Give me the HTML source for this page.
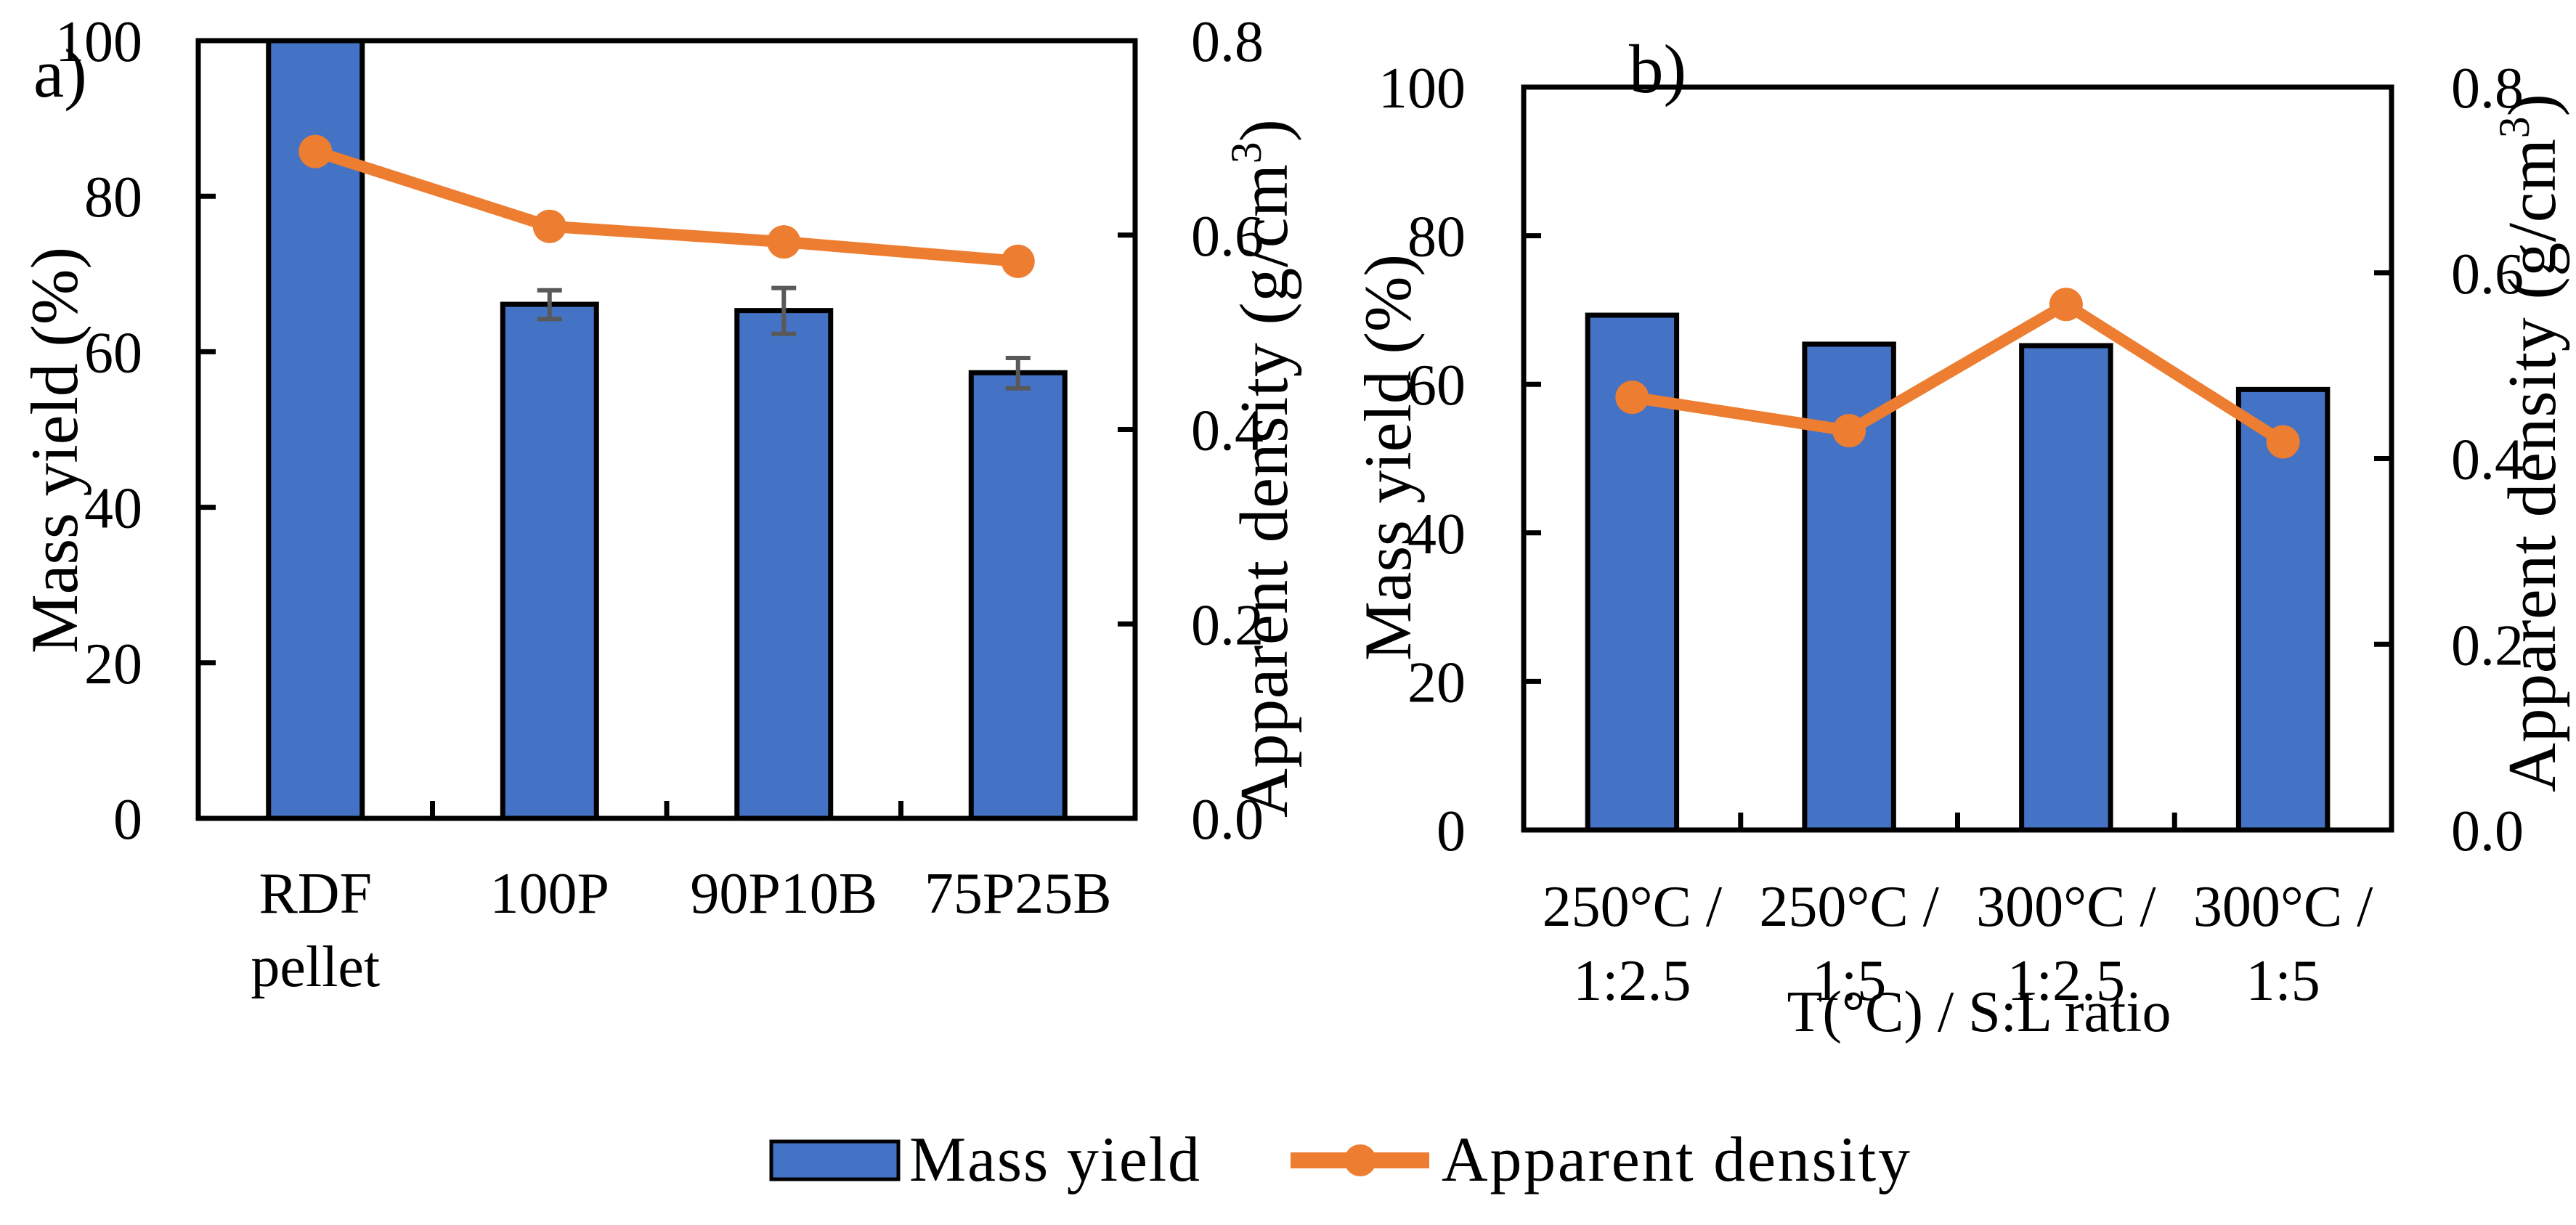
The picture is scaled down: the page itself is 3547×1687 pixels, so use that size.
<!DOCTYPE html>
<html><head><meta charset="utf-8"><style>
html,body{margin:0;padding:0;background:#fff;}
svg{display:block;}
text{font-family:"Liberation Serif",serif;fill:#000;}
</style></head><body>
<svg id="chart" width="3547" height="1687" viewBox="0 0 3547 1687" xmlns="http://www.w3.org/2000/svg">
<g id="pa"></g>
<g id="pb"></g>
<g>
  <g>
    <rect x="1062" y="1572" width="175" height="52" fill="#4472C4" stroke="#000" stroke-width="5"/>
    <text x="1252" y="1626" font-size="88" textLength="400">Mass yield</text>
  </g>
  <g>
    <line x1="1777" y1="1598" x2="1968" y2="1598" stroke="#ED7D31" stroke-width="22"/>
    <circle cx="1873" cy="1598" r="22" fill="#ED7D31"/>
    <text x="1985" y="1626" font-size="88" textLength="645">Apparent density</text>
  </g>
</g>
</svg>
<script>
const catsA = [["RDF","pellet"],["100P"],["90P10B"],["75P25B"]];
const massA = [100, 66.1, 65.3, 57.3];
const errLoA = [null, 64.2, 62.3, 55.3];
const errHiA = [null, 67.9, 68.2, 59.2];
const densA = [0.686, 0.609, 0.593, 0.573];

const catsB = [["250°C /","1:2.5"],["250°C /","1:5"],["300°C /","1:2.5"],["300°C /","1:5"]];
const massB = [69.3, 65.4, 65.2, 59.3];
const densB = [0.466, 0.430, 0.566, 0.418];

const leftTicks = [0,20,40,60,80,100];
const rightTicks = [0.0,0.2,0.4,0.6,0.8];
const rightTickLabels = ["0.0","0.2","0.4","0.6","0.8"];

const NS="http://www.w3.org/2000/svg";
function mk(parent, tag, attrs, txt){
  const e=document.createElementNS(NS,tag);
  for(const k in attrs) e.setAttribute(k,attrs[k]);
  if(txt!==undefined) e.textContent=txt;
  parent.appendChild(e); return e;
}

function panel(g, cfg){
  const {x0,x1,y0,y1,cats,mass,dens,errLo,errHi,barFrac,lab1,lab2,leftLabR,rightLabL,label,labX,labY,yTitleX,yTitleY,rTitleX,rTitleY,xTitle} = cfg;
  const n=cats.length, cw=(x1-x0)/n;
  const yL=v=>y1-(v/100)*(y1-y0);
  const yR=v=>y1-(v/0.8)*(y1-y0);
  const xC=i=>x0+cw*(i+0.5);
  const bw=cw*barFrac;
  mass.forEach((v,i)=>{
    const r=mk(g,'rect',{x:xC(i)-bw/2,y:yL(v),width:bw,height:y1-yL(v),fill:'#4472C4',stroke:'#000','stroke-width':7});
    
    
  });
  if(errLo){
    errLo.forEach((lo,i)=>{
      if(lo===null) return;
      const eg=mk(g,'g',{stroke:'#595959','stroke-width':6});
      
      
      const hi=errHi[i], cx=xC(i);
      mk(eg,'line',{x1:cx,y1:yL(lo),x2:cx,y2:yL(hi)});
      mk(eg,'line',{x1:cx-17,y1:yL(lo),x2:cx+17,y2:yL(lo)});
      mk(eg,'line',{x1:cx-17,y1:yL(hi),x2:cx+17,y2:yL(hi)});
    });
  }
  const fr=mk(g,'rect',{x:x0,y:y0,width:x1-x0,height:y1-y0,fill:'none',stroke:'#000','stroke-width':7});
  
  
  leftTicks.forEach(v=>{
    const t=mk(g,'line',{x1:x0,y1:yL(v),x2:x0+24,y2:yL(v),stroke:'#000','stroke-width':7});
    
    
    const l=mk(g,'text',{x:leftLabR,y:yL(v)+28,'font-size':80,'text-anchor':'end'},String(v));
    
    
  });
  rightTicks.forEach((v,i)=>{
    const t=mk(g,'line',{x1:x1-24,y1:yR(v),x2:x1,y2:yR(v),stroke:'#000','stroke-width':7});
    
    
    const l=mk(g,'text',{x:rightLabL,y:yR(v)+28,'font-size':80},rightTickLabels[i]);
    
    
  });
  for(let i=1;i<n;i++){
    const t=mk(g,'line',{x1:x0+cw*i,y1:y1,x2:x0+cw*i,y2:y1-24,stroke:'#000','stroke-width':7});
    
    
  }
  cats.forEach((c,i)=>{
    c.forEach((s,j)=>{
      const l=mk(g,'text',{x:xC(i),y:j===0?lab1:lab2,'font-size':80,'text-anchor':'middle'},s);
      
      
    });
  });
  const pts=dens.map((v,i)=>xC(i)+','+yR(v)).join(' ');
  const pl=mk(g,'polyline',{points:pts,fill:'none',stroke:'#ED7D31','stroke-width':16,'stroke-linejoin':'round'});
  
  
  dens.forEach((v,i)=>{
    const c=mk(g,'circle',{cx:xC(i),cy:yR(v),r:23,fill:'#ED7D31'});
    
    
  });
  const yt=mk(g,'text',{x:0,y:0,'font-size':92,'text-anchor':'middle',textLength:560,transform:`translate(${yTitleX},${yTitleY}) rotate(-90)`},'Mass yield (%)');
  
  
  const rt=mk(g,'text',{x:0,y:0,'font-size':94,'text-anchor':'middle',transform:`translate(${rTitleX},${rTitleY}) rotate(-90)`});
  
  
  mk(rt,'tspan',{textLength:900},'Apparent density (g/cm');
  mk(rt,'tspan',{'font-size':60,dy:-36},'3');
  mk(rt,'tspan',{'font-size':94,dy:36},')');
  const pl2=mk(g,'text',{x:labX,y:labY,'font-size':95},label);
  
  
  if(xTitle){
    const xt=mk(g,'text',{x:xTitle.x,y:xTitle.y,'font-size':80,'text-anchor':'middle'},xTitle.t);
    
    
  }
}

panel(document.getElementById('pa'),{x0:273,x1:1563,y0:56,y1:1127,cats:catsA,mass:massA,dens:densA,errLo:errLoA,errHi:errHiA,barFrac:0.4,
  lab1:1257,lab2:1358,leftLabR:196,rightLabL:1640,label:'a)',labX:46,labY:133,yTitleX:106,yTitleY:620,rTitleX:1772,rTitleY:645});
panel(document.getElementById('pb'),{x0:2098,x1:3293,y0:120,y1:1143,cats:catsB,mass:massB,dens:densB,errLo:null,errHi:null,barFrac:0.41,
  lab1:1275,lab2:1377,leftLabR:2018,rightLabL:3375,label:'b)',labX:2243,labY:127,yTitleX:1942,yTitleY:630,rTitleX:3518,rTitleY:610,
  xTitle:{x:2725,y:1420,t:'T(°C) / S:L ratio'}});
</script>
</body></html>
